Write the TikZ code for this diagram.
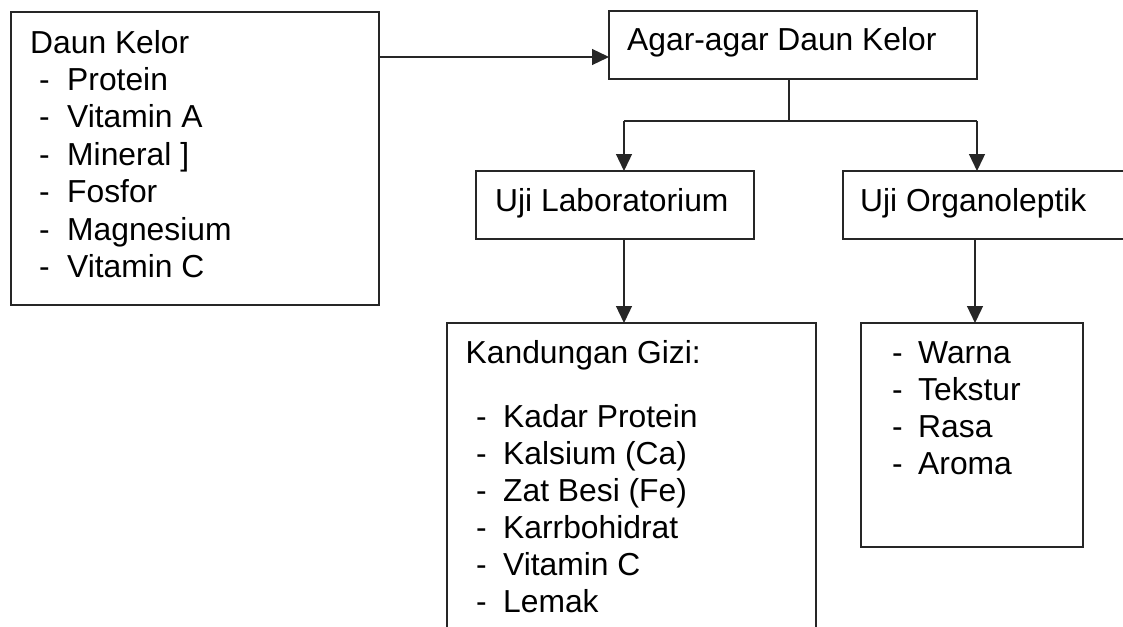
\documentclass[tikz,border=0pt]{standalone}
\usepackage{fontspec}
\setmainfont{Liberation Sans}
\usetikzlibrary{arrows.meta}
\tikzset{
  boxn/.style={draw=black!85, line width=1.3pt, anchor=north west, inner sep=0pt, outer sep=0pt},
  txt/.style={anchor=base west, inner sep=0pt, font=\fontsize{31.8}{37}\selectfont},
  conn/.style={draw=black!85, line width=1.3pt},
  arr/.style={conn, -{Triangle[length=17pt,width=16pt]}}
}
\begin{document}
\begin{tikzpicture}[x=1pt,y=-1pt]
\useasboundingbox (0,0) rectangle (1123,626);
\clip (0,0) rectangle (1123,626);
\fill[white] (0,0) rectangle (1123,626);

% boxes
\node[boxn, minimum width=368pt, minimum height=293pt] (daun) at (11,12) {};
\node[boxn, minimum width=368pt, minimum height=68pt] (agar) at (609,11) {};
\node[boxn, minimum width=278pt, minimum height=68pt] (lab) at (476,171) {};
\node[boxn, minimum width=300pt, minimum height=68pt] (org) at (843,171) {};
\node[boxn, minimum width=369pt, minimum height=380pt] (gizi) at (447,323) {};
\node[boxn, minimum width=222pt, minimum height=224pt] (sens) at (861,323) {};

% texts
\node[txt] (tdaun) at (30,53) {Daun Kelor};
\foreach \t [count=\i from 0] in {Protein,Vitamin A,Mineral ],Fosfor,Magnesium,Vitamin C}{
  \node[txt] (dd\i) at (39,90+37.5*\i) {-};
  \node[txt] (di\i) at (67,90+37.5*\i) {\t};
}
\node[txt] (tagar) at (627,51) {Agar-agar Daun Kelor};
\node[txt] (tlab) at (495,211) {Uji Laboratorium};
\node[txt] (torg) at (860,211) {Uji Organoleptik};
\node[txt] (tgizi) at (465.5,363) {Kandungan Gizi:};
\foreach \t [count=\i from 0] in {Kadar Protein,Kalsium (Ca),Zat Besi (Fe),Karrbohidrat,Vitamin C,Lemak}{
  \node[txt] (gd\i) at (476,427+37*\i) {-};
  \node[txt] (gi\i) at (503,427+37*\i) {\t};
}
\foreach \t [count=\i from 0] in {Warna,Tekstur,Rasa,Aroma}{
  \node[txt] (sd\i) at (892,363+37.3*\i) {-};
  \node[txt] (si\i) at (918,363+37.3*\i) {\t};
}

% connectors
\coordinate (jm) at (789,121);
\coordinate (jl) at (624,121);
\coordinate (jr) at (977,121);
\coordinate (js) at (975,121);
\draw[arr] ([yshift=-45pt]daun.north east) -- ([yshift=-46pt]agar.north west);
\draw[conn] (jm |- agar.south) -- (jm);
\draw[conn] (jl) -- (jr);
\draw[arr] (jl) -- (jl |- lab.north);
\draw[arr] (jr) -- (jr |- org.north);
\draw[arr] (jl |- lab.south) -- (jl |- gizi.north);
\draw[arr] (js |- org.south) -- (js |- sens.north);
\end{tikzpicture}
\end{document}
